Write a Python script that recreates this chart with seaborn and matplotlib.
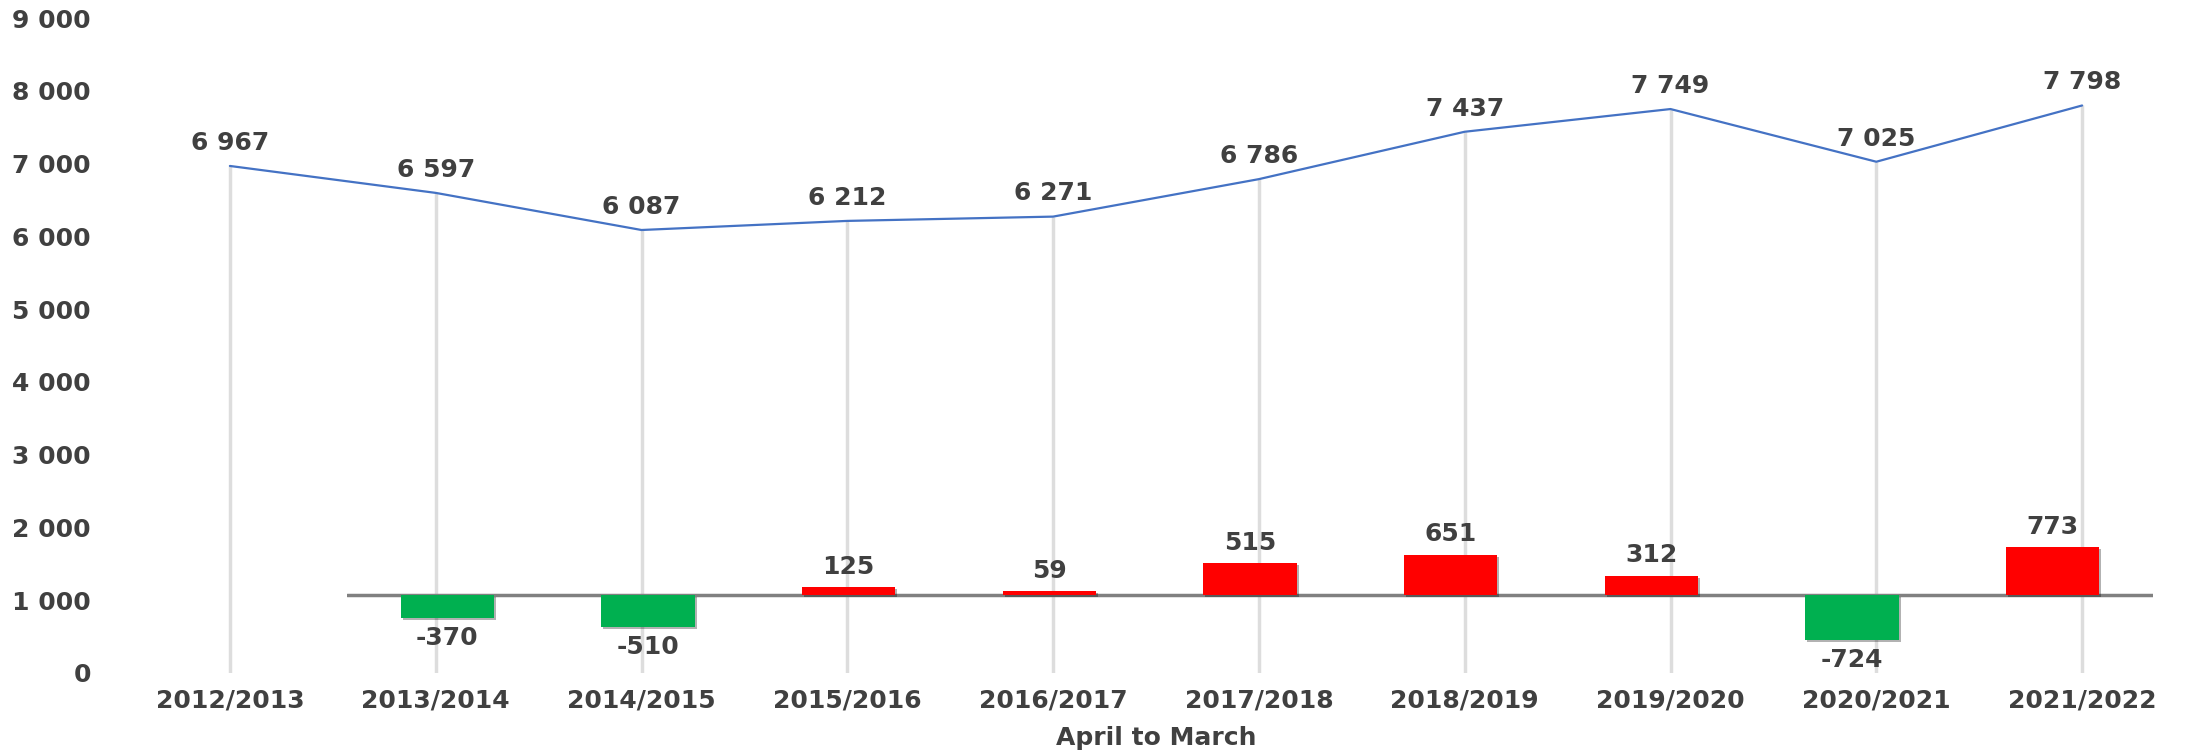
import matplotlib
matplotlib.use("Agg")
import matplotlib.pyplot as plt
import matplotlib.patheffects as pe
import matplotlib.ticker as mtick
import seaborn as sns
import pandas as pd

# --- data ---
years = ["2012/2013", "2013/2014", "2014/2015", "2015/2016", "2016/2017",
         "2017/2018", "2018/2019", "2019/2020", "2020/2021", "2021/2022"]
totals = [6967, 6597, 6087, 6212, 6271, 6786, 7437, 7749, 7025, 7798]
change_years = years[1:]
changes = [-370, -510, 125, 59, 515, 651, 312, -724, 773]

# --- style ---
sns.set_theme(style="white")
plt.rcParams['font.family'] = ['DejaVu Sans']
TEXT = "#404040"
LINE_BLUE = "#4472C4"
DROP_GREY = "#DDDDDD"
UP_RED = "#FF0000"
DOWN_GREEN = "#00B050"
FS = 18

W, H = 2185, 753
fig = plt.figure(figsize=(W / 100, H / 100), dpi=100)
fig.patch.set_facecolor("white")

# main axis: totals line
ax = fig.add_axes([127 / W, 1 - 673 / H, (W - 127) / W, (673 - 18) / H])
df_tot = pd.DataFrame({"year": years, "total": totals, "pos": range(len(years))})

ax.vlines(df_tot["pos"], 0, df_tot["total"], color=DROP_GREY, lw=2.5, zorder=1)
sns.lineplot(data=df_tot, x="pos", y="total", color=LINE_BLUE, lw=1.6, ax=ax,
             sort=False, zorder=2)
for x, v in zip(df_tot["pos"], df_tot["total"]):
    ax.annotate(f"{v:,}".replace(",", " "), (x, v), xytext=(0, 8),
                textcoords="offset points", ha="center", va="bottom",
                fontsize=FS, fontweight="bold", color=TEXT)

ax.set_xlim(-0.5, len(years) - 0.5)
ax.set_ylim(0, 9000)
ax.set_yticks(range(0, 9001, 1000))
ax.yaxis.set_major_formatter(mtick.FuncFormatter(lambda v, p: f"{v:,.0f}".replace(",", " ")))
ax.set_xticks(range(len(years)))
ax.set_xticklabels(years)
ax.tick_params(axis="y", length=0, pad=26, labelsize=FS, labelcolor=TEXT)
ax.tick_params(axis="x", length=0, pad=11, labelsize=FS, labelcolor=TEXT)
for lab in ax.get_xticklabels() + ax.get_yticklabels():
    lab.set_fontweight("bold")
ax.set_xlabel("April to March", fontsize=FS, fontweight="bold", color=TEXT, labelpad=10)
ax.set_ylabel("")
sns.despine(ax=ax, left=True, bottom=True)
ax.grid(False)

# secondary axis: year-on-year change bars
ax2 = fig.add_axes([347 / W, 1 - 673 / H, (2153 - 347) / W, (673 - 18) / H])
ax2.set_facecolor("none")
df_chg = pd.DataFrame({"year": change_years, "change": changes})
df_chg["dir"] = ["up" if c > 0 else "down" for c in changes]
sns.barplot(data=df_chg, x="year", y="change", hue="dir",
            palette={"up": UP_RED, "down": DOWN_GREEN}, width=0.465,
            saturation=1, dodge=False, legend=False, ax=ax2, zorder=3,
            linewidth=0, edgecolor="none")
for bar in ax2.patches:
    bar.set_path_effects([pe.SimplePatchShadow(offset=(1.5, -1.5), alpha=0.3, shadow_rgbFace="black"),
                          pe.Normal()])
ax2.axhline(0, color="#808080", lw=2.5, zorder=2)
for i, c in enumerate(changes):
    if c > 0:
        ax2.annotate(str(c), (i, c), xytext=(0, 6), textcoords="offset points",
                     ha="center", va="bottom", fontsize=FS, fontweight="bold", color=TEXT)
    else:
        ax2.annotate(str(c), (i, c), xytext=(0, -6), textcoords="offset points",
                     ha="center", va="top", fontsize=FS, fontweight="bold", color=TEXT)
ax2.set_xlim(-0.5, len(change_years) - 0.5)
ax2.set_ylim(-1254, 9277)
ax2.axis("off")

fig.savefig("out.png", dpi=100, facecolor="white")
